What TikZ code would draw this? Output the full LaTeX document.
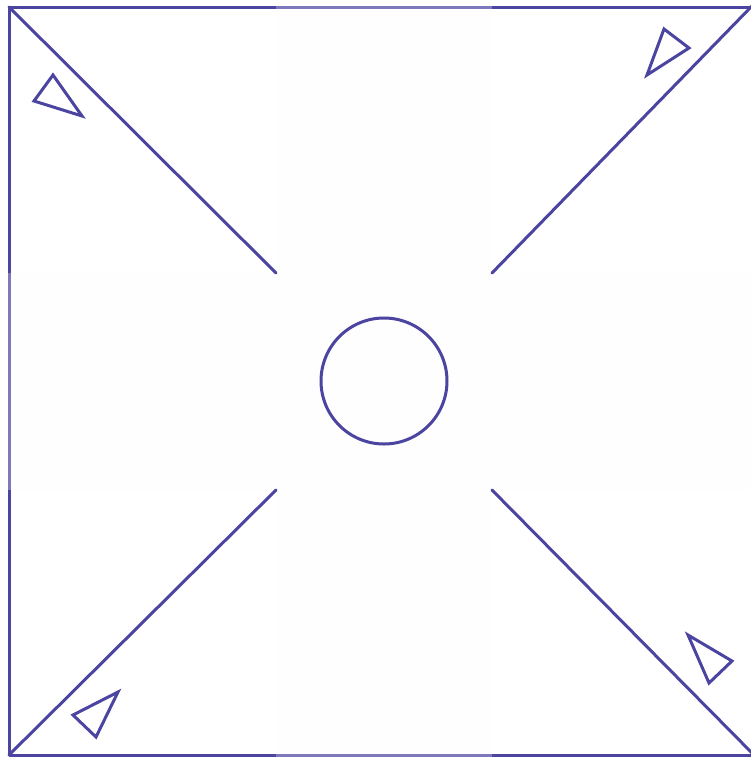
\documentclass[tikz,border=0pt]{standalone}
\definecolor{ink}{HTML}{4B44A0}
\definecolor{inklight}{HTML}{7E78BC}
\definecolor{crossfill}{HTML}{FEFEFE}
\tikzset{
  edge/.style={draw=ink, line width=3pt, line cap=round, line join=round},
  edgelight/.style={draw=inklight, line width=3pt},
  tri/.style={draw=ink, line width=3pt, line join=miter},
}
\begin{document}
\begin{tikzpicture}[x=1pt,y=-1pt]
\useasboundingbox (0,0) rectangle (751,758);
\clip (0,0) rectangle (751,758);
% faint cross region
\fill[crossfill] (276,7) rectangle (492,755);
\fill[crossfill] (9,273) rectangle (751,490);
% outer square, darker parts
\draw[edge] (276,7) -- (9,7) -- (9,273);
\draw[edge] (9,490) -- (9,755) -- (276,755);
\draw[edge] (492,7) -- (753,7);
\draw[edge] (492,755) -- (753,755);
% lighter parts inside cross arms
\draw[edgelight] (276,7) -- (492,7);
\draw[edgelight] (276,755) -- (492,755);
\draw[edgelight] (9,273) -- (9,490);
% diagonals
\coordinate (tl) at (9,7);
\coordinate (tr) at (752,6);
\coordinate (bl) at (9,755);
\coordinate (br) at (753,754);
\coordinate (tlin) at (276,273);
\coordinate (trin) at (492,273);
\coordinate (blin) at (276,490);
\coordinate (brin) at (492,490);
\draw[edge] (tl) -- (tlin);
\draw[edge] (tr) -- (trin);
\draw[edge] (bl) -- (blin);
\draw[edge] (br) -- (brin);
% central circle
\node[draw=ink, line width=3pt, circle, minimum size=126pt, inner sep=0pt] (hole) at (384,381) {};
% triangles
\draw[tri] (53,75) -- (34,101) -- (82,116) -- cycle;
\draw[tri] (664,29) -- (689,48) -- (647,75) -- cycle;
\draw[tri] (118,692) -- (73,715) -- (96,737) -- cycle;
\draw[tri] (688,635) -- (732,661) -- (709,683) -- cycle;
\end{tikzpicture}
\end{document}
